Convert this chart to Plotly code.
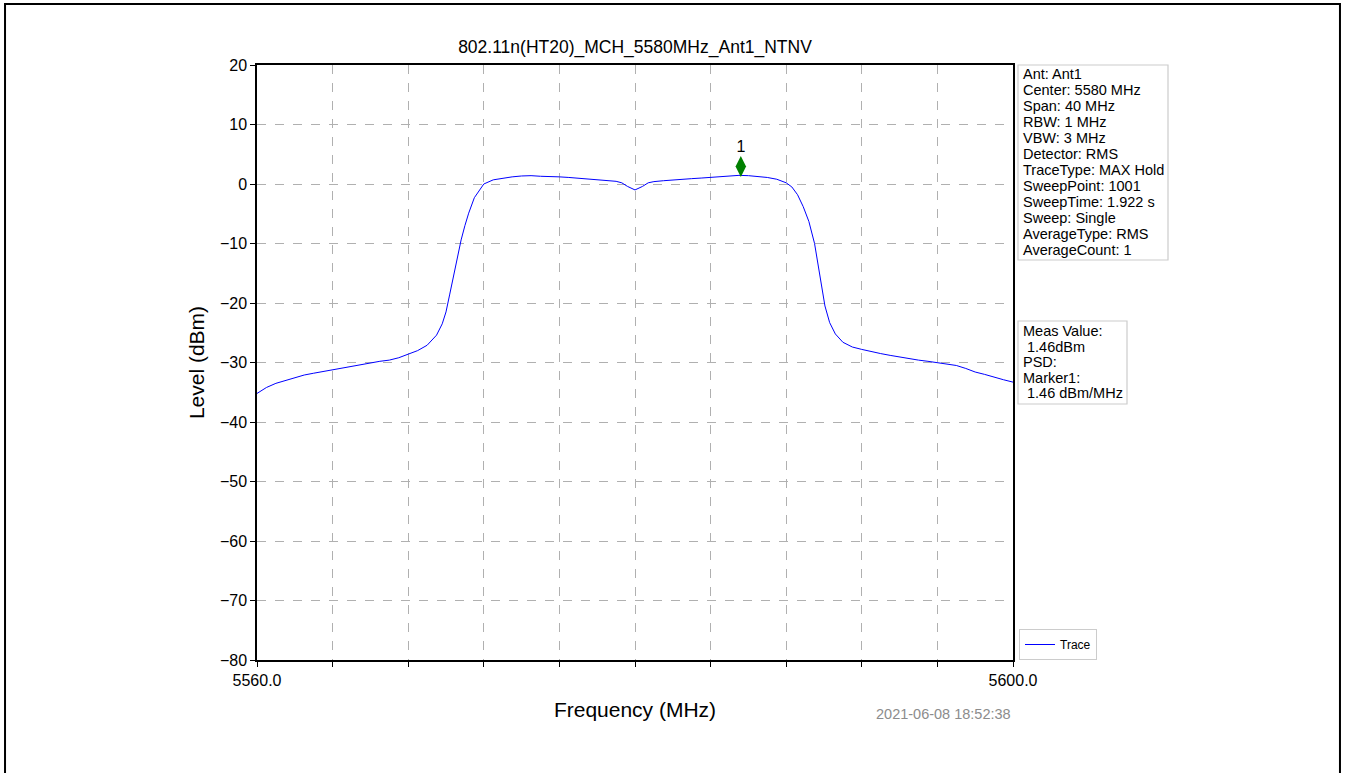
import plotly.graph_objects as go

# Spectrum trace (MHz, dBm)
freq_mhz = [
    5560.0, 5560.5, 5561.0, 5561.5, 5562.0, 5562.5, 5563.0, 5563.5, 5564.0, 5564.5,
    5565.0, 5565.5, 5566.0, 5566.5, 5567.0, 5567.5, 5568.0, 5568.5, 5569.0, 5569.5,
    5569.8, 5570.0, 5570.2, 5570.4, 5570.6, 5570.8, 5571.0, 5571.2, 5571.5, 5571.8,
    5572.0, 5572.5, 5573.0, 5573.5, 5574.0, 5574.5, 5575.0, 5575.5, 5576.0, 5576.5,
    5577.0, 5577.5, 5578.0, 5578.5, 5579.0, 5579.3, 5579.6, 5580.0, 5580.4, 5580.7,
    5581.0, 5581.5, 5582.0, 5582.5, 5583.0, 5583.5, 5584.0, 5584.5, 5585.0, 5585.5,
    5586.0, 5586.5, 5587.0, 5587.5, 5588.0, 5588.3, 5588.6, 5588.9, 5589.2, 5589.5,
    5589.8, 5590.05, 5590.3, 5590.6, 5591.0, 5591.5, 5592.0, 5592.5, 5593.0, 5593.5,
    5594.0, 5594.5, 5595.0, 5595.5, 5596.0, 5596.5, 5597.0, 5597.5, 5598.0, 5598.5,
    5599.0, 5599.5, 5600.0,
]
level_dbm = [
    -35.2, -34.2, -33.5, -33.0, -32.5, -32.1, -31.8, -31.5, -31.2, -30.9,
    -30.6, -30.3, -30.0, -29.8, -29.6, -29.2, -28.6, -28.0, -27.1, -25.4,
    -23.5, -21.5, -18.5, -15.4, -12.2, -9.4, -7.0, -4.9, -2.3, -0.8,
    0.0, 0.7, 1.0, 1.2, 1.35, 1.4, 1.3, 1.3, 1.2, 1.1,
    0.95, 0.85, 0.7, 0.6, 0.45, 0.2, -0.4, -1.0, -0.4, 0.2,
    0.4, 0.55, 0.7, 0.85, 0.9, 1.0, 1.1, 1.25, 1.35, 1.45,
    1.4, 1.25, 1.1, 0.8, 0.2, -0.5, -1.8, -3.8, -6.3, -10.0,
    -15.4, -20.5, -23.3, -25.2, -26.6, -27.4, -27.8, -28.2, -28.5, -28.8,
    -29.1, -29.4, -29.6, -29.8, -30.0, -30.2, -30.5, -31.0, -31.6, -32.0,
    -32.5, -32.9, -33.3,
]

# Marker 1 (peak)
marker_freq = [5585.6]
marker_level = [1.46]
marker_labels = ["1"]

x_ticks = [5560, 5564, 5568, 5572, 5576, 5580, 5584, 5588, 5592, 5596, 5600]
x_ticktext = ["5560.0", "", "", "", "", "", "", "", "", "", "5600.0"]
y_ticks = [20, 10, 0, -10, -20, -30, -40, -50, -60, -70, -80]

info_lines = [
    "Ant: Ant1", "Center: 5580 MHz", "Span: 40 MHz", "RBW: 1 MHz", "VBW: 3 MHz",
    "Detector: RMS", "TraceType: MAX Hold", "SweepPoint: 1001", "SweepTime: 1.922 s",
    "Sweep: Single", "AverageType: RMS", "AverageCount: 1",
]
meas_lines = ["Meas Value:", " 1.46dBm", "PSD:", "Marker1:", " 1.46 dBm/MHz"]

FONT = "Liberation Sans, Arial, sans-serif"

# plot area in pixels, used to place the side boxes
PL, PR, PT, PB = 257, 1013, 65, 660


def px(x):
    return (x - PL) / (PR - PL)


def py(y):
    return (PB - y) / (PB - PT)


fig = go.Figure()
fig.add_trace(go.Scatter(x=freq_mhz, y=level_dbm, mode="lines", name="Trace",
                         line=dict(color="#0000ff", width=1)))
# diamond sits a little above the measured level, like the original plot
fig.add_trace(go.Scatter(x=marker_freq, y=[v + 1.5 for v in marker_level],
                         mode="markers+text", text=marker_labels,
                         textposition="top center", textfont=dict(size=16, color="black", family=FONT),
                         marker=dict(symbol="diamond-tall", size=15, color="#008000"),
                         showlegend=False, hoverinfo="skip"))

axis_common = dict(showline=True, linecolor="black", linewidth=1.5, mirror=True,
                   ticks="outside", ticklen=5, tickcolor="black", tickwidth=1,
                   showgrid=True, gridcolor="#b0b0b0", griddash="dash", gridwidth=1,
                   zeroline=False, tickfont=dict(size=16, color="black", family=FONT))

fig.update_layout(
    width=1345, height=773,
    paper_bgcolor="white", plot_bgcolor="white",
    margin=dict(l=PL, r=1345 - PR, t=PT, b=773 - PB),
    font=dict(family=FONT, color="black"),
    title=dict(text="802.11n(HT20)_MCH_5580MHz_Ant1_NTNV", x=0.5, xref="paper",
               y=1, yref="paper", yanchor="bottom", pad=dict(b=12),
               font=dict(size=17.5, color="black", family=FONT)),
    xaxis=dict(range=[5560, 5600], tickvals=x_ticks, ticktext=x_ticktext,
               title=dict(text="Frequency (MHz)", font=dict(size=21), standoff=14),
               **axis_common),
    yaxis=dict(range=[-80, 20], tickvals=y_ticks,
               title=dict(text="Level (dBm)", font=dict(size=21), standoff=10),
               **axis_common),
    legend=dict(x=px(1019), y=0, xanchor="left", yanchor="bottom",
                bordercolor="#cccccc", borderwidth=1, bgcolor="white",
                font=dict(size=12, family=FONT), itemwidth=30),
    showlegend=True,
)


def text_box(lines, x0, x1, y0, y1, first_y, step):
    fig.add_shape(type="rect", xref="paper", yref="paper",
                  x0=px(x0), x1=px(x1), y0=py(y0), y1=py(y1),
                  line=dict(color="#cccccc", width=1.2), fillcolor="white", layer="above")
    for i, line in enumerate(lines):
        fig.add_annotation(text=line.replace(" ", "&nbsp;", 1) if line.startswith(" ") else line,
                           xref="paper", yref="paper", x=px(x0 + 3), y=py(first_y + i * step),
                           xanchor="left", yanchor="middle", showarrow=False,
                           font=dict(size=14.5, family=FONT, color="black"))


text_box(info_lines, 1018, 1168, 65, 260, 74, 16)
text_box(meas_lines, 1018, 1127, 321, 404, 331, 15.6)

fig.add_annotation(text="2021-06-08 18:52:38", xref="paper", yref="paper",
                   x=1, y=py(714), xanchor="right", yanchor="middle", showarrow=False,
                   font=dict(size=14.5, family=FONT, color="#8c8c8c"))

# outer page frame (top, left, right edges)
fig.add_shape(type="path", xref="paper", yref="paper",
              path="M %.4f %.4f L %.4f %.4f L %.4f %.4f L %.4f %.4f" % (
                  px(5), py(780), px(5), py(4), px(1340), py(4), px(1340), py(780)),
              line=dict(color="black", width=2))

fig.write_html("out.html", config={"displayModeBar": False},
               post_script="document.body.style.margin='0';")
